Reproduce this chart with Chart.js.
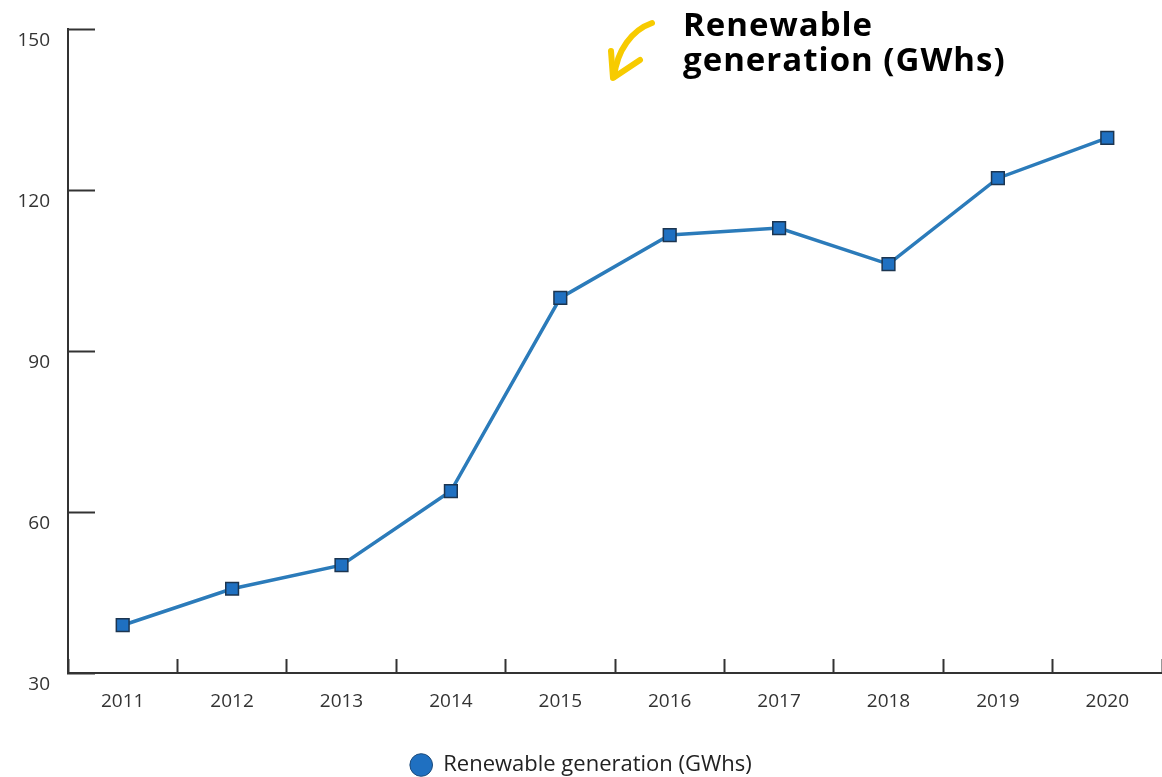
<!DOCTYPE html>
<html>
<head>
<meta charset="utf-8">
<script src="https://cdn.jsdelivr.net/npm/chart.js@4/dist/chart.umd.min.js"></script>
<style>
  html, body { margin: 0; padding: 0; background: #fff; overflow: hidden; }
  #wrap { width: 1162px; height: 777px; overflow: hidden; }
</style>
</head>
<body>
<div id="wrap"><canvas id="genChart" width="1162" height="786"></canvas></div>
<script>
// Renewable generation by year (GWh)
const years = ['2011', '2012', '2013', '2014', '2015', '2016', '2017', '2018', '2019', '2020'];
const generation = [38.9, 45.7, 50.1, 63.9, 99.9, 111.6, 112.9, 106.2, 122.2, 129.7];
const yTicks = [30, 60, 90, 120, 150];
const seriesName = 'Renewable generation (GWhs)';
const titleLines = ['Renewable', 'generation (GWhs)'];

const axisColor = '#333333';
const lineBlue = '#2b7bba';
const markerBlue = '#1f70c1';

// heading with the hand-drawn yellow arrow, top right of the plot
const headingPlugin = {
    id: 'heading',
    afterDraw(chart) {
        const ctx = chart.ctx;
        ctx.save();
        ctx.fillStyle = '#000';
        ctx.font = 'bold 33px "Open Sans"';
        ctx.letterSpacing = '1px';
        ctx.textBaseline = 'alphabetic';
        ctx.textAlign = 'left';
        ctx.fillText(titleLines[0], 683, 36);
        ctx.fillText(titleLines[1], 683, 71);
        ctx.letterSpacing = '0px';

        ctx.strokeStyle = '#f7cb00';
        ctx.lineCap = 'round';
        ctx.lineJoin = 'round';
        ctx.lineWidth = 6;
        ctx.beginPath();
        ctx.moveTo(652, 23);
        ctx.bezierCurveTo(632, 30, 617, 50, 614, 77);
        ctx.stroke();
        ctx.beginPath();
        ctx.moveTo(611, 51);
        ctx.lineTo(613, 78);
        ctx.lineTo(640, 60);
        ctx.stroke();
        ctx.restore();
    }
};

const ctx = document.getElementById('genChart').getContext('2d');
new Chart(ctx, {
    type: 'line',
    data: {
        labels: years,
        datasets: [{
            label: seriesName,
            data: generation,
            borderColor: lineBlue,
            backgroundColor: markerBlue,
            borderWidth: 3.5,
            tension: 0,
            pointStyle: 'rect',
            pointRadius: 9,
            pointBackgroundColor: markerBlue,
            pointBorderColor: '#1c3550',
            pointBorderWidth: 1.5,
            pointHoverRadius: 9
        }]
    },
    options: {
        responsive: false,
        devicePixelRatio: 1,
        animation: false,
        layout: { autoPadding: false, padding: { top: 29, right: 0, left: 0, bottom: 0 } },
        scales: {
            x: {
                offset: true,
                grid: {
                    offset: true,
                    drawOnChartArea: false,
                    drawTicks: true,
                    tickLength: -14,
                    tickColor: axisColor,
                    tickWidth: 2
                },
                border: { color: axisColor, width: 2 },
                ticks: {
                    color: axisColor,
                    padding: 31,
                    maxRotation: 0,
                    font: { family: '"Open Sans"', size: 19 }
                },
                afterFit(scale) { scale.height = 71; }
            },
            y: {
                min: 30,
                max: 150,
                afterBuildTicks(scale) {
                    scale.ticks = yTicks.map(v => ({ value: v }));
                },
                grid: {
                    drawOnChartArea: false,
                    drawTicks: true,
                    tickLength: -27,
                    tickColor: axisColor,
                    tickWidth: 2
                },
                border: { color: axisColor, width: 2 },
                ticks: {
                    color: axisColor,
                    padding: 45,
                    labelOffset: 12,
                    font: { family: '"Open Sans"', size: 19 }
                },
                afterFit(scale) {
                    // the big label padding would otherwise push the plot top down
                    scale.width = 68;
                    scale.paddingTop = 0;
                    scale.paddingBottom = 0;
                }
            }
        },
        plugins: {
            legend: {
                position: 'bottom',
                labels: {
                    usePointStyle: true,
                    pointStyle: 'circle',
                    boxHeight: 16,
                    padding: 10,
                    color: '#222',
                    font: { family: '"Open Sans"', size: 22 },
                    generateLabels(chart) {
                        const ds = chart.data.datasets[0];
                        return [{
                            text: ds.label,
                            fillStyle: markerBlue,
                            strokeStyle: '#1c4a7a',
                            lineWidth: 1,
                            pointStyle: 'circle',
                            datasetIndex: 0,
                            fontColor: '#222'
                        }];
                    }
                }
            },
            tooltip: { enabled: false }
        }
    },
    plugins: [headingPlugin]
});
</script>
</body>
</html>
